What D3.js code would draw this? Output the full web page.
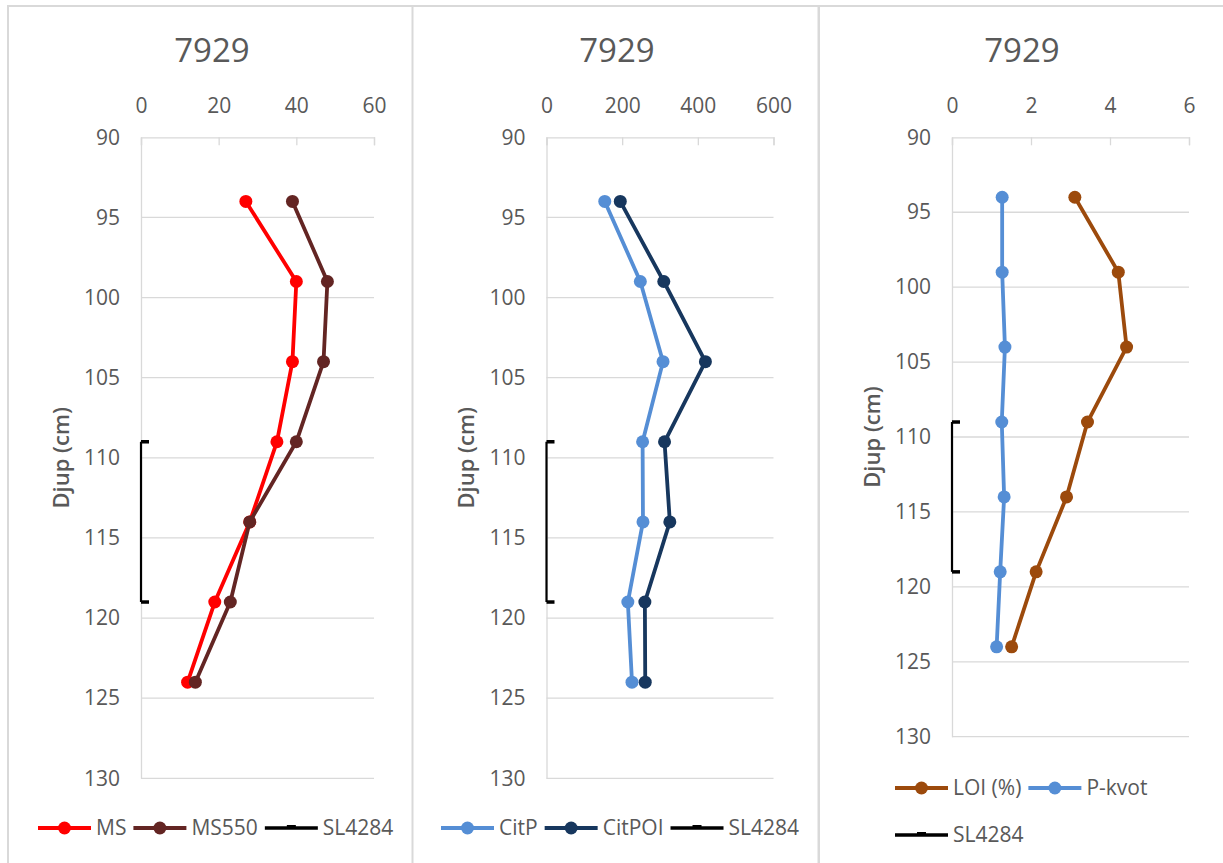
<!DOCTYPE html>
<html>
<head>
<meta charset="utf-8">
<script src="https://cdn.jsdelivr.net/npm/d3@7"></script>
<style>
  html, body { margin: 0; padding: 0; background: #ffffff; }
  svg { display: block; font-family: "Open Sans", "Noto Sans", sans-serif; }
</style>
</head>
<body>
<svg id="chart" width="1223" height="863"></svg>
<script>
// Core 7929: depth profiles (cm) of several soil parameters
const depths = [94, 99, 104, 109, 114, 119, 124];
const msValues = [27, 40, 39, 35, 28, 19, 12];
const ms550Values = [39, 48, 47, 40, 28, 23, 14];
const citPValues = [154, 248, 308, 254, 255, 215, 226];
const citPOIValues = [195, 310, 420, 312, 326, 260, 261];
const loiValues = [3.11, 4.21, 4.42, 3.43, 2.90, 2.13, 1.51];
const pKvotValues = [1.27, 1.27, 1.34, 1.26, 1.32, 1.22, 1.13];
// Sampled interval marker SL4284
const slDepths = [109, 119];
const slValues = [0, 0];

const depthDomain = [90, 130];
const depthTicks = [90, 95, 100, 105, 110, 115, 120, 125, 130];
const titleText = "7929";
const yTitle = "Djup (cm)";

const panels = [
  {
    frame: [8, 6, 413, 880], titleX: 212,
    plot: { left: 141, right: 374, top: 137.3, bottom: 778.3 },
    xDomain: [0, 60], xTicks: [0, 20, 40, 60],
    series: [
      { name: "MS", values: msValues, color: "#ff0000" },
      { name: "MS550", values: ms550Values, color: "#632523" }
    ],
    legendRows: [{ y: 828, x: 38, items: ["MS", "MS550", "SL4284"] }]
  },
  {
    frame: [412.5, 6, 818.5, 880], titleX: 617,
    plot: { left: 546.5, right: 773.5, top: 137.3, bottom: 778.3 },
    xDomain: [0, 600], xTicks: [0, 200, 400, 600],
    series: [
      { name: "CitP", values: citPValues, color: "#558ed5" },
      { name: "CitPOI", values: citPOIValues, color: "#17375e" }
    ],
    legendRows: [{ y: 828, x: 441, items: ["CitP", "CitPOI", "SL4284"] }]
  },
  {
    frame: [819, 6, 1230, 880], titleX: 1022,
    plot: { left: 952, right: 1189, top: 137.3, bottom: 736.7 },
    xDomain: [0, 6], xTicks: [0, 2, 4, 6],
    series: [
      { name: "LOI (%)", values: loiValues, color: "#9c4a0c" },
      { name: "P-kvot", values: pKvotValues, color: "#558ed5" }
    ],
    legendRows: [
      { y: 788, x: 895, items: ["LOI (%)", "P-kvot"] },
      { y: 835, x: 895, items: ["SL4284"] }
    ]
  }
];

const svg = d3.select("#chart");
const textColor = "#595959";
const gridColor = "#d9d9d9";

panels.forEach(p => {
  const g = svg.append("g");
  const [fx0, fy0, fx1, fy1] = p.frame;
  g.append("rect")
    .attr("x", fx0).attr("y", fy0)
    .attr("width", fx1 - fx0).attr("height", fy1 - fy0)
    .attr("fill", "#ffffff").attr("stroke", gridColor).attr("stroke-width", 2);

  const x = d3.scaleLinear().domain(p.xDomain).range([p.plot.left, p.plot.right]);
  const y = d3.scaleLinear().domain(depthDomain).range([p.plot.top, p.plot.bottom]);

  // title
  g.append("text")
    .attr("x", p.titleX)
    .attr("y", 50).attr("dy", "0.35em")
    .attr("text-anchor", "middle")
    .attr("font-size", 33).attr("fill", textColor)
    .text(titleText);

  // horizontal gridlines
  g.append("g").selectAll("line")
    .data(depthTicks.slice(1))
    .join("line")
    .attr("x1", p.plot.left).attr("x2", p.plot.right)
    .attr("y1", d => y(d)).attr("y2", d => y(d))
    .attr("stroke", gridColor).attr("stroke-width", 1.3);

  // top value axis
  const xAxis = d3.axisTop(x).tickValues(p.xTicks).tickSize(-8).tickPadding(0).tickFormat(d3.format("d"));
  const xa = g.append("g").attr("transform", `translate(0,${p.plot.top})`).call(xAxis);
  xa.select(".domain").attr("stroke", gridColor).attr("stroke-width", 1.3);
  xa.selectAll(".tick line").attr("stroke", gridColor).attr("stroke-width", 1.3);
  xa.selectAll(".tick text")
    .attr("y", 106 - p.plot.top).attr("dy", "0.35em")
    .attr("font-size", 21).attr("fill", textColor)
    .attr("font-family", "'Open Sans', sans-serif");

  // left depth axis
  const yAxis = d3.axisLeft(y).tickValues(depthTicks).tickSize(0).tickPadding(21);
  const ya = g.append("g").attr("transform", `translate(${p.plot.left},0)`).call(yAxis);
  ya.select(".domain").attr("stroke", gridColor).attr("stroke-width", 1.3);
  ya.selectAll(".tick text")
    .attr("font-size", 21).attr("fill", textColor)
    .attr("font-family", "'Open Sans', sans-serif");

  // axis title
  const ty = (p.plot.top + p.plot.bottom) / 2;
  g.append("text")
    .attr("transform", `translate(${p.plot.left - 80},${ty}) rotate(-90)`)
    .attr("text-anchor", "middle").attr("dy", "0.35em")
    .attr("font-size", 22).attr("font-weight", 600).attr("fill", textColor)
    .text(yTitle);

  // interval bracket SL4284
  const line = d3.line().x(d => x(d[0])).y(d => y(d[1]));
  const slPts = slValues.map((v, i) => [v, slDepths[i]]);
  g.append("path").datum(slPts)
    .attr("d", line).attr("fill", "none")
    .attr("stroke", "#000").attr("stroke-width", 2.2);
  g.append("g").selectAll("line")
    .data(slPts).join("line")
    .attr("x1", d => x(d[0])).attr("x2", d => x(d[0]) + 8)
    .attr("y1", d => y(d[1])).attr("y2", d => y(d[1]))
    .attr("stroke", "#000").attr("stroke-width", 3.5);

  // data series
  p.series.forEach(s => {
    const pts = s.values.map((v, i) => [v, depths[i]]);
    g.append("path").datum(pts)
      .attr("d", line).attr("fill", "none")
      .attr("stroke", s.color).attr("stroke-width", 3.8)
      .attr("stroke-linejoin", "round");
    g.append("g").selectAll("circle")
      .data(pts).join("circle")
      .attr("cx", d => x(d[0])).attr("cy", d => y(d[1]))
      .attr("r", 6.5).attr("fill", s.color);
  });

  // legend
  const colorOf = name => {
    const s = p.series.find(q => q.name === name);
    return s ? s.color : "#000";
  };
  p.legendRows.forEach(row => {
    let cx = row.x;
    row.items.forEach(name => {
      const c = colorOf(name);
      const isSL = name === "SL4284";
      const lg = g.append("g");
      lg.append("line")
        .attr("x1", cx).attr("x2", cx + 53)
        .attr("y1", row.y).attr("y2", row.y)
        .attr("stroke", c).attr("stroke-width", isSL ? 3.5 : 4);
      if (isSL) {
        lg.append("rect").attr("x", cx + 22).attr("y", row.y - 3)
          .attr("width", 9).attr("height", 3).attr("fill", "#000");
      } else {
        lg.append("circle").attr("cx", cx + 26.5).attr("cy", row.y)
          .attr("r", 6.5).attr("fill", c);
      }
      const t = lg.append("text")
        .attr("x", cx + 58).attr("y", row.y).attr("dy", "0.35em")
        .attr("font-size", 21).attr("fill", textColor)
        .text(name);
      cx = cx + 58 + t.node().getComputedTextLength() + 7;
    });
  });
});
</script>
</body>
</html>
